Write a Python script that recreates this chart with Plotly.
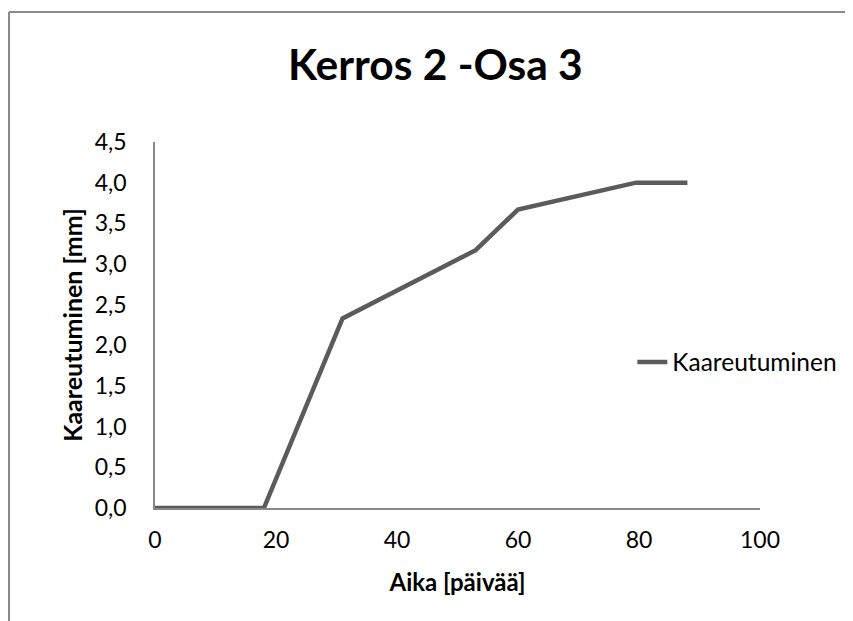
import plotly.graph_objects as go

days = [0, 18, 31, 53, 60, 79.5, 88]
deflection = [0.0, 0.0, 2.33, 3.17, 3.67, 4.0, 4.0]
series_name = "Kaareutuminen"
title_text = "Kerros 2 -Osa 3"
x_title = "Aika [päivää]"
y_title = "Kaareutuminen [mm]"

FONT = "Lato, 'Open Sans', sans-serif"

# page is shown with an 8px body offset; margins compensate so the plot area lands at 155..760 x 142..508
L, R, T, B = 147, 101, 134, 121
W, H = 853, 621
PW, PH = W - L - R, H - T - B

fig = go.Figure()
fig.add_trace(go.Scatter(
    x=days, y=deflection, mode="lines", name=series_name,
    line=dict(color="#5b5b5b", width=4.5),
))

left_x = (1 - L) / PW
top_y = (PH + T - 4) / PH

fig.update_layout(
    width=W, height=H,
    margin=dict(l=L, r=R, t=T, b=B),
    paper_bgcolor="white", plot_bgcolor="white",
    separators=",.",
    font=dict(family=FONT, size=23, color="#000000"),
    title=dict(text="<b>" + title_text + "</b>", x=0.501, xanchor="center",
               y=1 - 57 / H, yanchor="middle", yref="container", xref="container",
               font=dict(family=FONT, size=42.5, color="#000000")),
    showlegend=True,
    legend=dict(x=0.789, y=0.399, xanchor="left", yanchor="middle",
                font=dict(family=FONT, size=24.5, color="#000000"),
                bgcolor="rgba(0,0,0,0)"),
    xaxis=dict(range=[0, 100], dtick=20, tick0=0, showgrid=False, zeroline=False,
               showline=True, linecolor="#888888", linewidth=1.5,
               ticks="outside", ticklen=11, tickcolor="rgba(0,0,0,0)",
               title=dict(text="<b>" + x_title + "</b>", font=dict(family=FONT, size=24), standoff=22)),
    yaxis=dict(range=[0, 4.5], dtick=0.5, tick0=0, tickformat=".1f", showgrid=False, zeroline=False,
               showline=True, linecolor="#888888", linewidth=1.5,
               ticks="outside", ticklen=22, tickcolor="rgba(0,0,0,0)",
               title=dict(text="<b>" + y_title + "</b>", font=dict(family=FONT, size=25), standoff=5)),
    shapes=[
        dict(type="line", xref="paper", yref="paper", x0=left_x, x1=left_x, y0=-B / PH - 0.05, y1=top_y,
             line=dict(color="#8a8a8a", width=2)),
        dict(type="line", xref="paper", yref="paper", x0=left_x, x1=(W - L) / PW + 0.05, y0=top_y, y1=top_y,
             line=dict(color="#8a8a8a", width=2)),
    ],
)

fig.write_html("out.html")
